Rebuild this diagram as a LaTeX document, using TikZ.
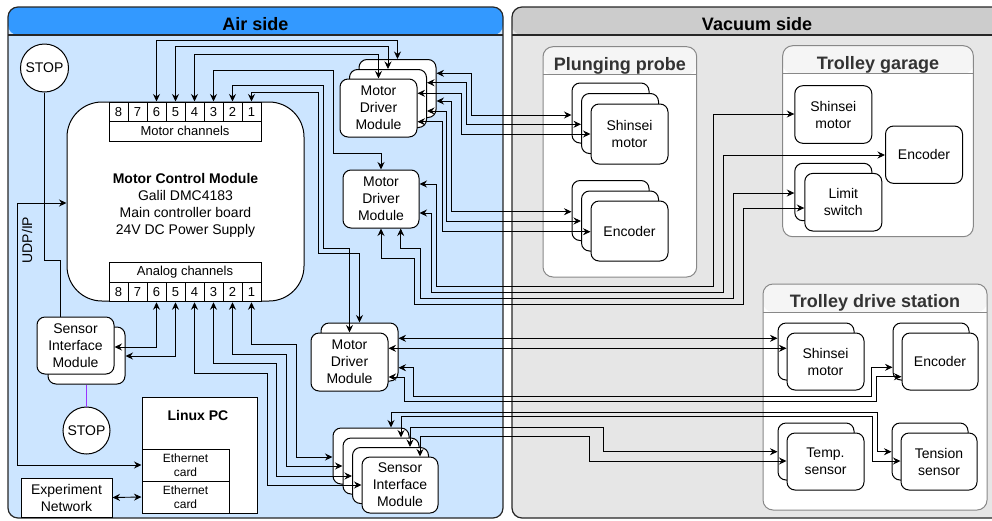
\documentclass[tikz,border=0pt]{standalone}
\usepackage{fontspec}
\setmainfont{Liberation Sans}
\usetikzlibrary{arrows.meta,calc}
\definecolor{airhead}{HTML}{3399FF}
\definecolor{airbody}{HTML}{CCE5FF}
\definecolor{vachead}{HTML}{CCCCCC}
\definecolor{vacbody}{HTML}{E6E6E6}
\definecolor{grphead}{HTML}{F5F5F5}
\definecolor{grpline}{HTML}{888888}
\definecolor{grptext}{HTML}{333333}
\definecolor{stoplink}{HTML}{9933FF}
\newcommand\fsN{\fontsize{14}{17}\selectfont}
\newcommand\fsC{\fontsize{13}{15}\selectfont}
\newcommand\fsS{\fontsize{12}{13.5}\selectfont}
\newcommand\fsT{\fontsize{18}{20}\selectfont\bfseries}
\tikzset{
  container/.style 2 args={draw=black!85, line width=1.2pt, rounded corners=10pt, fill=#2, inner sep=0pt,
    path picture={\fill[#1] (path picture bounding box.north west) rectangle ([yshift=-28pt]path picture bounding box.north east);
      \draw[line width=1.2pt, black!85] ([yshift=-28pt]path picture bounding box.north west) -- ([yshift=-28pt]path picture bounding box.north east);}},
  grp/.style={draw=grpline, line width=1pt, rounded corners=10pt, fill=white, inner sep=0pt,
    path picture={\fill[grphead] (path picture bounding box.north west) rectangle ([yshift=-28pt]path picture bounding box.north east);
      \draw[line width=1pt, grpline] ([yshift=-28pt]path picture bounding box.north west) -- ([yshift=-28pt]path picture bounding box.north east);}},
  maintitle/.style={font=\fsT, text=black},
  grptitle/.style={font=\fsT, text=grptext},
  box/.style={draw=black, fill=white, rounded corners=8pt, line width=1pt, align=center, font=\fsN,
    inner sep=0pt, minimum width=77pt, minimum height=58pt},
  sqbox/.style={draw=black, fill=white, line width=1pt, inner sep=0pt, align=center},
  cell/.style={draw=black, fill=white, line width=1pt, minimum width=19pt, minimum height=19.5pt, inner sep=0pt, font=\fsC},
  stopc/.style={draw=black, fill=white, circle, line width=1pt, inner sep=0pt, font=\fsN},
  wire/.style={line width=0.9pt, draw=black, <->},
  plain/.style={line width=0.9pt, draw=black},
  >={Stealth[length=7.5pt,width=7pt,inset=2.5pt]}
}
\begin{document}
\begin{tikzpicture}[x=1pt,y=-1pt]
\useasboundingbox (0,0) rectangle (992,520);
% containers
\node[container={airhead}{airbody}, minimum width=495pt, minimum height=511pt] (air) at (255.5,262.5) {};
\node[container={vachead}{vacbody}, minimum width=490pt, minimum height=511pt] (vac) at (757,262.5) {};
\node[maintitle] (airt) at (255.5,24) {Air side};
\node[maintitle] (vact) at (757,24) {Vacuum side};
% groups
\node[grp, minimum width=153.7pt, minimum height=230.3pt] (pp) at (619.85,161.85) {};
\node[grptitle] (ppt) at (619.85,65.5) {Plunging probe};
\node[grp, minimum width=190.6pt, minimum height=191pt] (tg) at (878,141.2) {};
\node[grptitle] (tgt) at (878,64.5) {Trolley garage};
\node[grp, minimum width=224pt, minimum height=226pt] (tds) at (875,397) {};
\node[grptitle] (tdst) at (875,303) {Trolley drive station};
% motor control module
\node[draw=black, fill=white, rounded corners=35pt, line width=1pt, minimum width=237pt, minimum height=199pt, inner sep=0pt] (mcm) at (185.5,201.5) {};
\node[align=center, font=\fsN] (mcmt) at (185.5,205) {\textbf{Motor Control Module}\\Galil DMC4183\\Main controller board\\24V DC Power Supply};
\foreach \n [count=\i from 0] in {8,7,6,5,4,3,2,1} {
  \node[cell] (mc\n) at (118.5+19*\i,111.75) {\n};
  \node[cell] (ac\n) at (118.5+19*\i,292) {\n};
}
\node[cell, minimum width=152pt] (mclab) at (185,131.25) {Motor channels};
\node[cell, minimum width=152pt] (aclab) at (185,272.5) {Analog channels};
% motor driver modules
\node[box] (mdmT3) at (397.5,88.5) {};
\node[box] (mdmT2) at (388,98.5) {};
\node[box] (mdmT) at (378.5,108) {Motor\\Driver\\Module};
\node[box, minimum width=76pt] (mdmM) at (381,199) {Motor\\Driver\\Module};
\node[box] (mdmL2) at (359.5,352) {};
\node[box] (mdmL) at (349.5,362) {Motor\\Driver\\Module};
% sensor interface modules
\node[box, minimum height=57pt] (simL2) at (86.5,355.5) {};
\node[box, minimum height=57pt] (simL) at (75.5,345.5) {Sensor\\Interface\\Module};
\node[box, minimum width=76pt, minimum height=56pt] (simB4) at (371,456) {};
\node[box, minimum width=76pt, minimum height=56pt] (simB3) at (381,466) {};
\node[box, minimum width=76pt, minimum height=56pt] (simB2) at (390.5,475.5) {};
\node[box, minimum width=76pt, minimum height=56pt] (simB) at (400,485) {Sensor\\Interface\\Module};
% stops
\node[stopc, minimum size=48pt] (stopT) at (44.5,68) {STOP};
\node[stopc, minimum size=47pt] (stopB) at (86.5,430.5) {STOP};
% linux pc
\node[sqbox, minimum width=115pt, minimum height=116pt] (lpc) at (199.5,455) {};
\node[font=\fsN\bfseries] (lpct) at (198,415) {Linux PC};
\node[sqbox, minimum width=87pt, minimum height=32pt, font=\fsS] (eth1) at (185.5,465) {Ethernet\\card};
\node[sqbox, minimum width=87pt, minimum height=32pt, font=\fsS] (eth2) at (185.5,497) {Ethernet\\card};
\node[sqbox, minimum width=91pt, minimum height=39pt, font=\fsN] (expnet) at (66.5,497.5) {Experiment\\Network};
\node[rotate=90, font=\fsN] (udp) at (27,240) {UDP/IP};
% plunging probe
\node[box, minimum height=60pt] (psm3) at (610.5,113) {};
\node[box, minimum height=60pt] (psm2) at (620,123.5) {};
\node[box, minimum height=60pt] (psm) at (629.5,134) {Shinsei\\motor};
\node[box, minimum height=60pt] (penc3) at (610.5,210.5) {};
\node[box, minimum height=60pt] (penc2) at (620,221) {};
\node[box, minimum height=60pt] (penc) at (629.5,231) {Encoder};
% trolley garage
\node[box, minimum height=57.6pt] (gsm) at (833.3,114.5) {Shinsei\\motor};
\node[box, minimum height=57.3pt] (genc) at (924,154.7) {Encoder};
\node[box, minimum height=57.4pt] (glim2) at (833.3,192) {};
\node[box, minimum height=57.6pt] (glim) at (843.3,202.2) {Limit\\switch};
% trolley drive station
\node[box, minimum width=76pt, minimum height=57pt] (tsm2) at (816,351.5) {};
\node[box, minimum height=57pt] (tsm) at (825.5,361.5) {Shinsei\\motor};
\node[box, minimum width=76pt, minimum height=57pt] (tenc2) at (931,351.5) {};
\node[box, minimum width=76pt, minimum height=57pt] (tenc) at (940,361.5) {Encoder};
\node[box, minimum width=76pt, minimum height=57pt] (ttemp2) at (816,451.5) {};
\node[box, minimum height=57pt] (ttemp) at (825.5,461.5) {Temp.\\sensor};
\node[box, minimum width=76pt, minimum height=57pt] (tten2) at (930,451.5) {};
\node[box, minimum width=76pt, minimum height=57pt] (tten) at (939,461.5) {Tension\\sensor};
% ---- wires: motor channels to motor drivers
\draw[wire] (mc6.north) |- (mdmT3.north |- 0,40) -- (mdmT3.north);
\draw[wire] (mc5.north) |- (mdmT2.north |- 0,46.7) -- (mdmT2.north);
\draw[wire] (mc4.north) |- (mdmT.north |- 0,54.3) -- (mdmT.north);
\draw[wire] (mc3.north) |- (333,70.7) |- (mdmM.north |- 0,153) -- (mdmM.north);
\draw[wire] (mc2.north) |- (323,85) |- (mdmL.north |- 0,248) -- (mdmL.north);
\draw[wire] (mc1.north) |- (318,92) |- (mdmL2.north |- 0,253) -- (mdmL2.north);
% top motor drivers to plunging probe
\draw[wire] (mdmT3.east |- 0,73.3) -| (471.7,115) -- (psm3.west |- 0,115);
\draw[wire] (mdmT2.east |- 0,82.7) -| (466.7,124.3) -- (psm2.west |- 0,124.3);
\draw[wire] (mdmT.east |- 0,93.3) -| (461.7,134) -- (psm.west |- 0,134);
\draw[wire] (mdmT3.east |- 0,101) -| (451.7,211.7) -- (penc3.west |- 0,211.7);
\draw[wire] (mdmT2.east |- 0,111) -| (446.7,221) -- (penc2.west |- 0,221);
\draw[wire] (mdmT.east |- 0,121.7) -| (442.7,231.7) -- (penc.west |- 0,231.7);
% middle motor driver to trolley garage
\draw[wire] (mdmM.east |- 0,184) -| (436,286) -| (713,114) -- (gsm.west |- 0,114);
\draw[wire] (mdmM.east |- 0,213) -| (431,292) -| (723,155) -- (genc.west |- 0,155);
\draw[wire] (mdmM.south -| 400.7,0) |- (420,248) |- (733,298) |- (glim2.west |- 0,193);
\draw[wire] (mdmM.south) |- (414,258) |- (743,304) |- (glim.west |- 0,208);
% lower motor driver to trolley drive station
\draw[wire] (mdmL2.east |- 0,338.3) -- (tsm2.west |- 0,338.3);
\draw[wire] (mdmL.east |- 0,348.3) -- (tsm.west |- 0,348.3);
\draw[wire] (mdmL2.east |- 0,367.7) -| (413,396) -| (871,367.3) -- (tenc2.west |- 0,367.3);
\draw[wire] (mdmL.east |- 0,377) -| (404,401.5) -| (876.7,376.7) -- (tenc.west |- 0,376.7);
% sensor interface module to sensors
\draw[wire] (simB4.north -| 391,0) |- (877,412.7) |- (tten2.west |- 0,451.7);
\draw[wire] (simB3.north -| 401,0) |- (872,416.5) |- (tten.west |- 0,461);
\draw[wire] (simB2.north -| 410,0) |- (603,427.3) |- (ttemp2.west |- 0,451.7);
\draw[wire] (simB.north -| 420,0) |- (589,436.7) |- (ttemp.west |- 0,461);
% analog channels
\draw[wire] (simL.east |- 0,347) -| (ac6.south);
\draw[wire] (simL2.east |- 0,356) -| (ac5.south);
\draw[wire] (ac4.south) |- (267,373) |- (simB.west |- 0,485);
\draw[wire] (ac3.south) |- (276,363) |- (simB2.west |- 0,476);
\draw[wire] (ac2.south) |- (286,354) |- (simB3.west |- 0,466);
\draw[wire] (ac1.south) |- (296,344) |- (simB4.west |- 0,457);
% network
\draw[wire] (eth1.west) -| (17,203) -- (mcm.west |- 0,203);
\draw[wire] (expnet.east) -- (eth2.west);
% stop buttons
\draw[plain] (stopT.south) |- (60,260) -- (simL.north -| 60,0);
\draw[line width=0.9pt, draw=stoplink] (simL2.south) -- (stopB.north);
\end{tikzpicture}
\end{document}
